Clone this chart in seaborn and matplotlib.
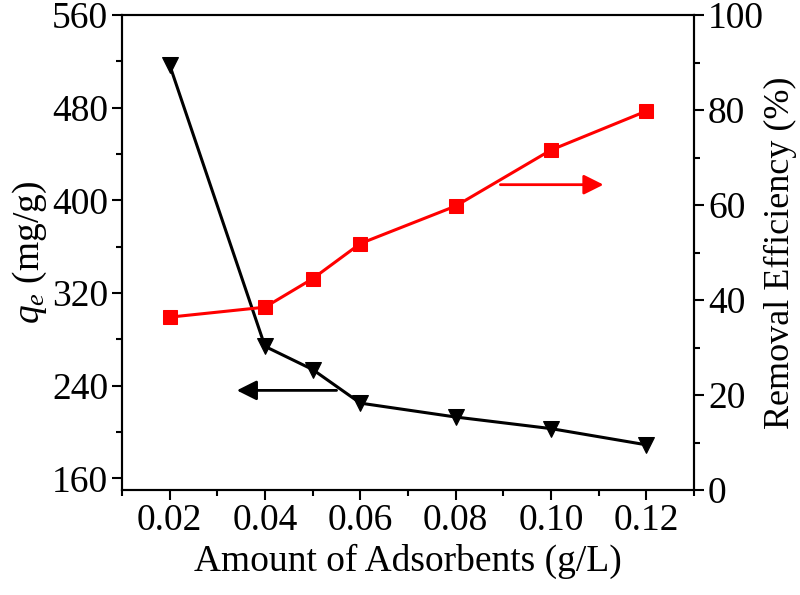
import numpy as np
import pandas as pd
import matplotlib
matplotlib.use('Agg')
import matplotlib.pyplot as plt
from matplotlib.ticker import MultipleLocator
import seaborn as sns

# Data
dosage = [0.02, 0.04, 0.05, 0.06, 0.08, 0.10, 0.12]
qe = [517, 274, 254, 225, 213, 203, 189]
removal = [36.4, 38.5, 44.5, 51.9, 59.8, 71.6, 79.8]

df = pd.DataFrame({'dosage': dosage, 'qe': qe, 'removal': removal})

sns.set_style('ticks', {'axes.edgecolor': 'black', 'text.color': 'black',
                        'axes.labelcolor': 'black', 'xtick.color': 'black',
                        'ytick.color': 'black'})
plt.rcParams['font.family'] = ['Liberation Serif', 'DejaVu Serif']
plt.rcParams['mathtext.fontset'] = 'custom'
plt.rcParams['mathtext.rm'] = 'Liberation Serif'
plt.rcParams['mathtext.it'] = 'Liberation Serif:italic'

fig = plt.figure(figsize=(8, 5.95), dpi=100)
ax = fig.add_axes([0.1525, 0.1765, 0.715, 0.798])
ax2 = ax.twinx()

sns.lineplot(data=df, x='dosage', y='qe', ax=ax, color='black', marker='v',
             markersize=12, markeredgecolor='black', linewidth=2.2)
sns.lineplot(data=df, x='dosage', y='removal', ax=ax2, color='red', marker='s',
             markersize=10, markeredgecolor='red', linewidth=2.2)

ax.set_xlim(0.01, 0.13)
ax.set_ylim(150, 560)
ax2.set_ylim(0, 100)

ax.xaxis.set_major_locator(MultipleLocator(0.02))
ax.xaxis.set_minor_locator(MultipleLocator(0.01))
ax.set_yticks([160, 240, 320, 400, 480, 560])
ax.yaxis.set_minor_locator(MultipleLocator(40))
ax2.yaxis.set_major_locator(MultipleLocator(20))
ax2.yaxis.set_minor_locator(MultipleLocator(10))
ax.xaxis.set_major_formatter(plt.FuncFormatter(lambda v, p: f'{v:.2f}'))

fs = 27
ax.set_xlabel('Amount of Adsorbents (g/L)', fontsize=fs)
ax.set_ylabel(r'$q_e$ (mg/g)', fontsize=fs, labelpad=2)
ax2.set_ylabel('Removal Efficiency (%)', fontsize=26, labelpad=0)

for a in (ax, ax2):
    a.tick_params(which='major', direction='out', length=7, width=1.5, labelsize=fs, pad=3,
                  color='black', labelcolor='black')
    a.tick_params(which='minor', direction='out', length=4, width=1.5, color='black')
    for s in a.spines.values():
        s.set_linewidth(1.5)
        s.set_color('black')
        s.set_visible(True)
ax.tick_params(axis='y', which='both', right=False)
ax2.tick_params(axis='x', which='both', top=False)

# direction arrows
ax.annotate('', xy=(0.0335, 236), xytext=(0.0556, 236),
            arrowprops=dict(arrowstyle='-|>', color='black', lw=2, mutation_scale=30))
ax2.annotate('', xy=(0.1116, 64.3), xytext=(0.0888, 64.3),
             arrowprops=dict(arrowstyle='-|>', color='red', lw=2, mutation_scale=30))

fig.savefig('out.png', dpi=100)
